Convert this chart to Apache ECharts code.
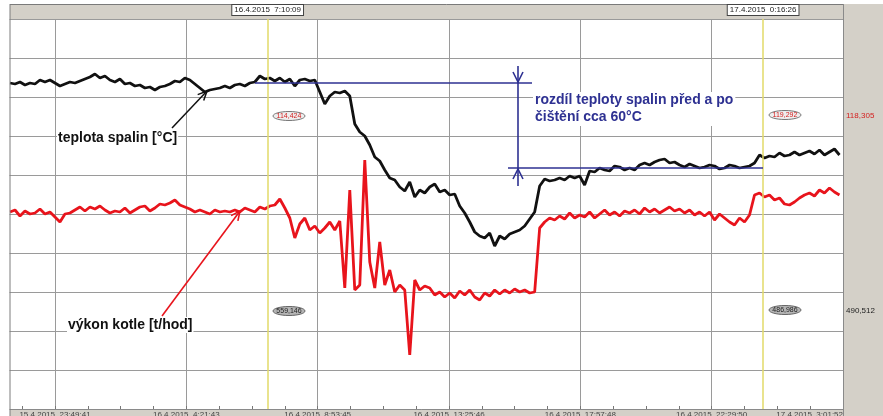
<!DOCTYPE html>
<html><head><meta charset="utf-8">
<script src="https://cdn.jsdelivr.net/npm/echarts@6/dist/echarts.min.js"></script>
<style>html,body{margin:0;padding:0;background:#fff}#c{width:883px;height:416px}</style>
</head><body><div id="c"></div>
<script>
// time axis: seconds relative to 15.4.2015 23:49:41, major step 4:32:02
const MAJOR = 16322;
const xTickLabels = ['15.4.2015  23:49:41','16.4.2015  4:21:43','16.4.2015  8:53:45','16.4.2015  13:25:46','16.4.2015  17:57:48','16.4.2015  22:29:50','17.4.2015  3:01:52'];
const sampleStart = -5593;   // first logged sample (s)
const sampleStep = 621;      // logger interval (s)

// teplota spalin [°C]
const teplotaSpalin = [560,559,561,558,560,559,563,561,563,560,557,559,561,560,562,564,566,569,565,567,
563,561,564,559,560,557,558,555,556,553,556,557,559,562,561,565,563,559,555,551,
553,554,555,557,555,558,559,557,560,561,567,564,565,562,565,561,564,557,563,564,
562,563,551,539,547,551,550,552,547,519,511,507,498,486,482,473,465,463,456,452,
461,446,453,450,456,459,451,453,448,449,437,430,421,411,407,405,410,397,407,404,
409,411,413,417,424,431,457,464,462,463,465,463,467,465,467,458,472,471,475,473,
472,477,476,473,475,473,478,480,478,481,483,484,480,481,478,476,479,477,475,476,
478,477,474,475,478,477,475,476,477,480,488,485,487,486,490,487,488,491,488,490,
492,489,493,488,491,494,488];

// výkon kotle [t/hod]
const vykonKotle = [111,112,109,111.5,110,110.5,112.5,110,111,108.5,106,110,110.5,112,113.5,111.5,113.5,112.5,114,112,
110.5,111.5,111,113,110.5,112,113.5,114,111.5,113,115,114.5,115.5,117,114.5,113.5,112.5,111,112,111,
110,112,111,111.5,111,112,111,113,112,111,113.5,112.5,114,114.5,117.5,113,108,98,105,108,
102,104,100.5,103,106,102,106.5,73,122,72,74.5,137,86,73,96,74.5,82,71,74.5,72,
39.5,77,72,74,73,69.5,71,68.5,70.5,68,71.5,69.5,72,68.5,67,70.5,69,72,70,72,
70.5,72.5,71,72,70.5,71,103,106,108,107,109,107.5,110.5,108,109.5,108.5,111,108,110,112,
109.5,111,109,111.5,110.5,112,110,113,111,112.5,110.5,112,113.5,111.5,112.5,110.5,112,109.5,111,109,
111,107,110,108,106,104.5,108,106,109.5,119.5,120.5,118.5,119.5,117,118,115,114.5,116,118,119.5,
120.5,119,122,120.5,123,121,119.5];

const cursorTimes = [26428, 88005];
const cursorLabels = ['16.4.2015  7:10:09', '17.4.2015  0:16:26'];
const cursorRed = ['114,424', '119,292'];
const cursorBlack = ['559,146', '486,986'];
const lastValues = ['118,305', '490,512'];

const times = teplotaSpalin.map((_, i) => sampleStart + i * sampleStep);

const chart = echarts.init(document.getElementById('c'), null, {renderer: 'canvas'});
const FONT = '"Liberation Sans", Arial, sans-serif';

function ellipse(cx, cy, txt, fill, stroke, color) {
  return [
    {type: 'ellipse', shape: {cx: cx, cy: cy, rx: 16, ry: 4.5}, style: {fill: fill, stroke: stroke, lineWidth: 1}, z: 10},
    {type: 'text', x: cx, y: cy, style: {text: txt, fill: color, fontSize: 7, fontFamily: FONT, align: 'center', verticalAlign: 'middle'}, z: 11}
  ];
}

const option = {
  backgroundColor: '#fff',
  animation: false,
  grid: {left: -76.33, right: 40, top: 19, bottom: 7, containLabel: false, outerBoundsMode: 'none'},
  xAxis: [
    {type: 'value', min: -MAJOR, max: 6 * MAJOR, interval: MAJOR,
     axisLine: {show: false}, axisTick: {show: false}, axisLabel: {show: false},
     splitLine: {show: true, lineStyle: {color: '#9a9a9a', width: 1}}},
    {type: 'value', min: -MAJOR, max: 6 * MAJOR, interval: MAJOR, position: 'bottom', z: 5,
     axisLine: {show: true, lineStyle: {color: '#8a8a8a'}},
     axisTick: {show: true, inside: true, length: 3, lineStyle: {color: '#777'}},
     minorTick: {show: true, splitNumber: 4, length: 3, lineStyle: {color: '#777'}},
     splitLine: {show: false},
     axisLabel: {show: true, margin: 2, fontSize: 8, color: '#444', fontFamily: FONT,
       showMaxLabel: true, alignMaxLabel: 'right', hideOverlap: false,
       formatter: v => { const i = Math.round(v / MAJOR); return i >= 0 && i < xTickLabels.length ? xTickLabels[i] : ''; }}}
  ],
  yAxis: [
    {type: 'value', min: 234, max: 624, interval: 39,
     axisLine: {show: false}, axisTick: {show: false}, axisLabel: {show: false},
     splitLine: {show: true, lineStyle: {color: '#9a9a9a', width: 1}}},
    {type: 'value', min: 12.5, max: 207.5, show: false, splitLine: {show: false}}
  ],
  series: [
    {type: 'line', name: 'teplota spalin [°C]', xAxisIndex: 0, yAxisIndex: 0, z: 3,
     data: times.map((t, i) => [t, teplotaSpalin[i]]), showSymbol: false,
     lineStyle: {color: '#111', width: 2.8}, itemStyle: {color: '#111'},
     markLine: {silent: true, symbol: ['none', 'none'], animation: false,
       lineStyle: {color: '#e2da68', width: 1.5, type: 'solid'},
       label: {show: true, position: 'end', distance: 4, fontSize: 8, color: '#222', fontFamily: FONT,
         backgroundColor: '#fff', borderColor: '#444', borderWidth: 1, padding: [1, 2]},
       data: cursorTimes.map((t, i) => ({xAxis: t, label: {formatter: cursorLabels[i]}}))}},
    {type: 'line', name: 'výkon kotle [t/hod]', xAxisIndex: 0, yAxisIndex: 1, z: 3,
     data: times.map((t, i) => [t, vykonKotle[i]]), showSymbol: false,
     lineStyle: {color: '#e8141c', width: 2.8}, itemStyle: {color: '#e8141c'}}
  ],
  graphic: [
    {type: 'rect', shape: {x: 10, y: 4, width: 873, height: 15}, style: {fill: '#d4d0c8'}, z: 1},
    {type: 'line', shape: {x1: 10, y1: 4.5, x2: 883, y2: 4.5}, style: {stroke: '#7a7a7a', lineWidth: 1}, z: 1},
    {type: 'rect', shape: {x: 10, y: 409, width: 834, height: 7}, style: {fill: '#d4d0c8'}, z: 1},
    {type: 'rect', shape: {x: 0, y: 0, width: 9.5, height: 416}, style: {fill: '#fff'}, z: 6},
    {type: 'line', shape: {x1: 10, y1: 4, x2: 10, y2: 416}, style: {stroke: '#7c7c7c', lineWidth: 1}, z: 6},
    {type: 'rect', shape: {x: 844, y: 4, width: 39, height: 412}, style: {fill: '#d4d0c8'}, z: 6},
    {type: 'line', shape: {x1: 843.5, y1: 4, x2: 843.5, y2: 416}, style: {stroke: '#8a8a8a', lineWidth: 1}, z: 6},
    {type: 'text', x: 846, y: 116, style: {text: lastValues[0], fill: '#d42020', fontSize: 8, fontFamily: FONT, verticalAlign: 'middle'}, z: 7},
    {type: 'text', x: 846, y: 311, style: {text: lastValues[1], fill: '#222', fontSize: 8, fontFamily: FONT, verticalAlign: 'middle'}, z: 7},
    ...ellipse(289, 116, cursorRed[0], '#eeeeee', '#777', '#d42020'),
    ...ellipse(785, 115, cursorRed[1], '#eeeeee', '#777', '#d42020'),
    ...ellipse(289, 311, cursorBlack[0], '#b5b5b5', '#666', '#222'),
    ...ellipse(785, 310, cursorBlack[1], '#b5b5b5', '#666', '#222'),
    {type: 'line', shape: {x1: 255, y1: 83, x2: 532, y2: 83}, style: {stroke: '#2e3192', lineWidth: 1.6}, z: 10},
    {type: 'line', shape: {x1: 508, y1: 168, x2: 763, y2: 168}, style: {stroke: '#2e3192', lineWidth: 1.6}, z: 10},
    {type: 'line', shape: {x1: 518, y1: 66, x2: 518, y2: 186}, style: {stroke: '#2e3192', lineWidth: 1.6}, z: 10},
    {type: 'polyline', shape: {points: [[513, 72], [518, 82], [523, 72]]}, style: {stroke: '#2e3192', lineWidth: 1.6, fill: null}, z: 10},
    {type: 'polyline', shape: {points: [[513, 179], [518, 169], [523, 179]]}, style: {stroke: '#2e3192', lineWidth: 1.6, fill: null}, z: 10},
    {type: 'text', x: 533, y: 92, style: {text: 'rozdíl teploty spalin před a po\nčištění cca 60°C', fill: '#2e3192',
      fontSize: 14, fontWeight: 'bold', fontFamily: FONT, lineHeight: 17, backgroundColor: '#fff', padding: [0, 2]}, z: 10},
    {type: 'line', shape: {x1: 172, y1: 128, x2: 207, y2: 91}, style: {stroke: '#111', lineWidth: 1.5}, z: 10},
    {type: 'polyline', shape: {points: [[197.7, 94.6], [207, 91], [203.7, 100.5]]}, style: {stroke: '#111', lineWidth: 1.5, fill: null}, z: 10},
    {type: 'text', x: 57, y: 138, style: {text: 'teplota spalin [°C]', fill: '#111', fontSize: 14, fontWeight: 'bold', fontFamily: FONT,
      verticalAlign: 'middle', backgroundColor: '#fff', padding: [1, 1]}, z: 10},
    {type: 'line', shape: {x1: 162, y1: 316, x2: 240, y2: 211}, style: {stroke: '#e8141c', lineWidth: 1.6}, z: 10},
    {type: 'polyline', shape: {points: [[231.1, 215.6], [240, 211], [237.9, 220.8]]}, style: {stroke: '#e8141c', lineWidth: 1.6, fill: null}, z: 10},
    {type: 'text', x: 67, y: 325, style: {text: 'výkon kotle [t/hod]', fill: '#111', fontSize: 14, fontWeight: 'bold', fontFamily: FONT,
      verticalAlign: 'middle', backgroundColor: '#fff', padding: [1, 1]}, z: 10}
  ]
};
chart.setOption(option);
</script>
</body></html>
